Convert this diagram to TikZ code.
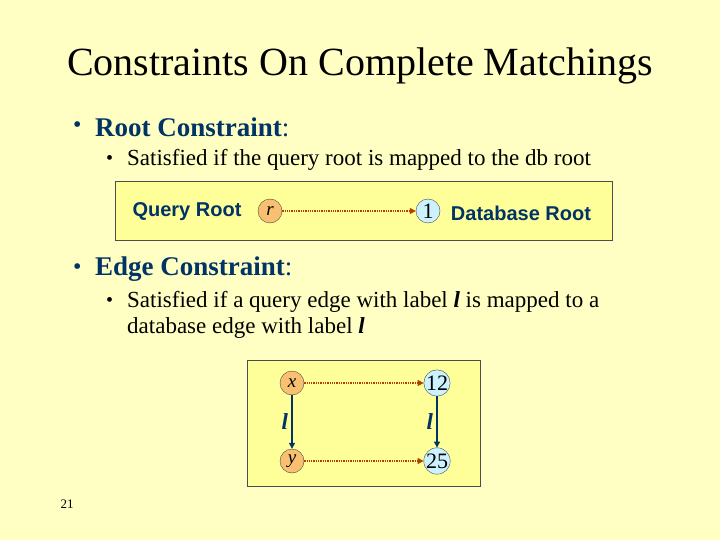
\documentclass[tikz,border=0pt]{standalone}
\usepackage{fontspec}
\setmainfont{Liberation Serif}
\newfontfamily\arialf{Liberation Sans}
\usetikzlibrary{arrows.meta}
\definecolor{bg}{HTML}{FFFFC4}
\definecolor{boxc}{HTML}{FFFF99}
\definecolor{navy}{HTML}{003366}
\definecolor{qn}{HTML}{F8C070}
\definecolor{dn}{HTML}{CCF2FF}
\definecolor{mapc}{HTML}{B04000}
\tikzset{
 qnode/.style={circle,draw=black!70,fill=qn,minimum size=24pt,inner sep=0pt,font=\fontsize{19}{19}\selectfont\itshape},
 dnode/.style={circle,draw=black!70,fill=dn,minimum size=24pt,inner sep=0pt,font=\fontsize{22}{22}\selectfont},
 mapl/.style={mapc,densely dotted,line width=1.3pt,-{Triangle[length=6pt,width=6pt]}},
 edgel/.style={navy,line width=1.3pt,-{Triangle[length=6pt,width=6pt]}},
 panel/.style={draw=black!70,fill=boxc,line width=0.6pt},
 lbl/.style={navy,font=\arialf\bfseries\fontsize{20}{20}\selectfont},
 ll/.style={navy,font=\bfseries\itshape\fontsize{23}{23}\selectfont},
 bul/.style={anchor=west,font=\fontsize{#1}{#1}\selectfont}
}
\begin{document}
\begin{tikzpicture}[x=1pt,y=-1pt]
\fill[bg] (0,0) rectangle (720,540);
\useasboundingbox (0,0) rectangle (720,540);
\node[anchor=west,inner sep=0pt,font=\fontsize{40}{40}\selectfont] (title) at (67,66) {Constraints On Complete Matchings};
\node[bul=24,navy,inner sep=0pt] (d1) at (73,127) {\textbullet};
\node[anchor=west,inner sep=0pt,navy,font=\fontsize{27}{27}\selectfont] (b1) at (95,127) {\textbf{Root Constraint}:};
\node[bul=20,inner sep=0pt] (d2) at (106,160) {\textbullet};
\node[anchor=west,inner sep=0pt,font=\fontsize{23}{23}\selectfont] (s1) at (127,160) {Satisfied if the query root is mapped to the db root};
\draw[panel] (115,181) rectangle (612,240);
\node[lbl] (qr) at (187,212) {Query Root};
\node[lbl] (dr) at (521,213) {Database Root};
\node[qnode] (r) at (270,211) {r};
\node[dnode] (one) at (428,211) {1};
\draw[mapl] (r) -- (one);
\node[bul=24,navy,inner sep=0pt] (d3) at (73,269) {\textbullet};
\node[anchor=west,inner sep=0pt,navy,font=\fontsize{27}{27}\selectfont] (b2) at (95,269) {\textbf{Edge Constraint}:};
\node[bul=20,inner sep=0pt] (d4) at (106,302) {\textbullet};
\node[anchor=west,inner sep=0pt,font=\fontsize{23}{23}\selectfont] (s2) at (127,302) {Satisfied if a query edge with label \textbf{\textit{l}} is mapped to a};
\node[anchor=west,inner sep=0pt,font=\fontsize{23}{23}\selectfont] (s3) at (127,328) {database edge with label \textbf{\textit{l}}};
\draw[panel] (247,360) rectangle (480,486);
\node[qnode] (x) at (292,383) {x};
\node[qnode] (y) at (292,461) {y};
\node[dnode] (n12) at (437,383) {12};
\node[dnode] (n25) at (437,461) {25};
\draw[edgel] (x) -- node[ll,left=0pt] {l} (y);
\draw[edgel] (n12) -- node[ll,left=0pt] {l} (n25);
\draw[mapl] (x) -- (n12);
\draw[mapl] (y) -- (n25);
\node[font=\fontsize{13}{13}\selectfont] (pg) at (67,504) {21};
\end{tikzpicture}
\end{document}
